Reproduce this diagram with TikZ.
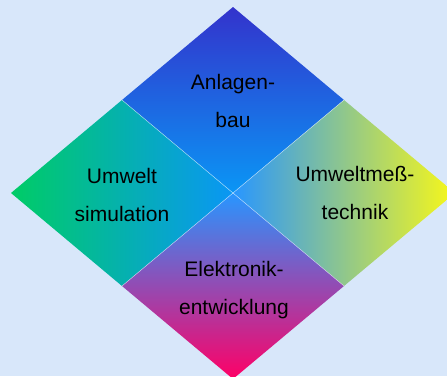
\documentclass[tikz,border=0pt]{standalone}
\usepackage{fontspec}
\setmainfont{Liberation Sans}
\usepackage{tikz}
\usetikzlibrary{calc}

\definecolor{paper}{RGB}{216,231,250}
\definecolor{darkblue}{RGB}{51,51,204}
\definecolor{skyblue}{RGB}{10,150,245}
\definecolor{midblue}{RGB}{40,150,255}
\definecolor{leafgreen}{RGB}{0,204,102}
\definecolor{lemon}{RGB}{248,248,24}
\definecolor{pinkred}{RGB}{255,0,102}

\tikzset{
    fieldtext/.style={align=center, text=black, font=\fontsize{21}{38}\selectfont},
    gapline/.style={draw=white, opacity=0.6, line width=0.5pt},
}

\begin{document}
\begin{tikzpicture}[x=1pt, y=-1pt]
        % Page size and background
        \useasboundingbox (0, 0) rectangle (447, 376);
        \clip (0, 0) rectangle (447, 376);
        \fill[paper] (0, 0) rectangle (447, 376);

        % Corners of the big square and its edge midpoints
        \coordinate (T) at (233, 7);
        \coordinate (L) at (11, 193);
        \coordinate (R) at (455, 193);
        \coordinate (B) at (233, 379);
        \coordinate (C) at (233, 193);
        \coordinate (TL) at ($(T)!0.5!(L)$);
        \coordinate (TR) at ($(T)!0.5!(R)$);
        \coordinate (BL) at ($(B)!0.5!(L)$);
        \coordinate (BR) at ($(B)!0.5!(R)$);

        % The four fields
        \shade[top color=darkblue, bottom color=skyblue]
            (T) -- (TR) -- (C) -- (TL) -- cycle;
        \shade[left color=leafgreen, right color=skyblue]
            (TL) -- (C) -- (BL) -- (L) -- cycle;
        \shade[left color=midblue, right color=lemon]
            (TR) -- (R) -- (BR) -- (C) -- cycle;
        \shade[top color=midblue, bottom color=pinkred]
            (C) -- (BR) -- (B) -- (BL) -- cycle;

        % Thin light seams between the fields
        \draw[gapline] (TL) -- (BR);
        \draw[gapline] (TR) -- (BL);

        % Labels
        \node[fieldtext] (anlagen) at (233, 101) {Anlagen-\\bau};
        \node[fieldtext] (simulation) at (122, 195) {Umwelt\\simulation};
        \node[fieldtext] (messtechnik) at (355, 193) {Umweltmeß-\\technik};
        \node[fieldtext] (elektronik) at (234, 290) {Elektronik-\\entwicklung};

\end{tikzpicture}
\end{document}
